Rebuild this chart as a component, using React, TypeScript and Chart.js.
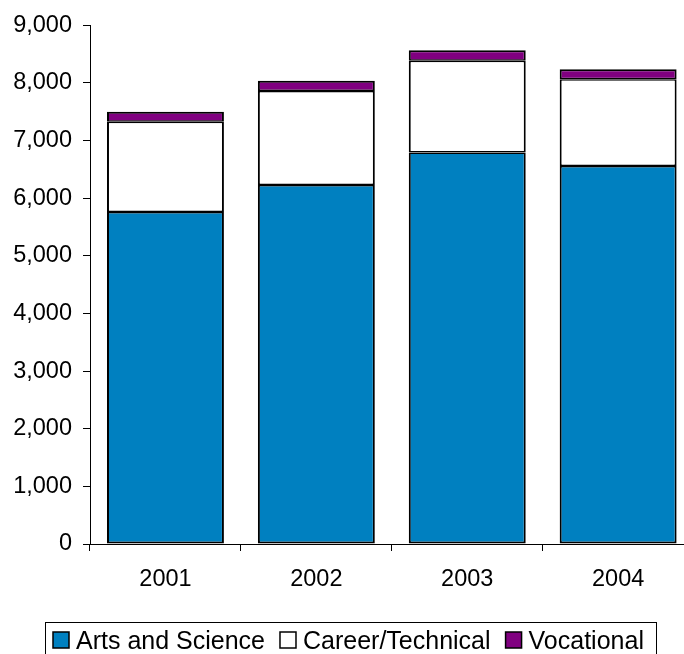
import React, { useEffect, useRef } from "react";
import { Chart, registerables } from "chart.js";

Chart.register(...registerables);

const categories = ["2001", "2002", "2003", "2004"];
const artsAndScience = [5760, 6225, 6790, 6555];
const careerTechnical = [1565, 1630, 1590, 1505];
const vocational = [170, 180, 185, 173];
const yTicks = [0, 1000, 2000, 3000, 4000, 5000, 6000, 7000, 8000, 9000];

const FONT = "'Liberation Sans', Arial, sans-serif";

const legendPlugin = {
  id: "boxLegend",
  afterDraw(chart: any) {
    const ctx = chart.ctx as CanvasRenderingContext2D;
    ctx.save();
    ctx.strokeStyle = "#000";
    ctx.lineWidth = 1;
    ctx.strokeRect(45.5, 622.5, 611, 40);
    ctx.font = `25px ${FONT}`;
    ctx.textBaseline = "alphabetic";
    ctx.textAlign = "left";
    let x = 53;
    chart.data.datasets.forEach((ds: any) => {
      ctx.fillStyle = ds.backgroundColor;
      ctx.fillRect(x, 632, 16, 16);
      ctx.lineWidth = 1.5;
      ctx.strokeStyle = "#000";
      ctx.strokeRect(x, 632, 16, 16);
      ctx.fillStyle = "#000";
      const tx = x + 23;
      ctx.fillText(ds.label, tx, 649);
      x = tx + ctx.measureText(ds.label).width + 15;
    });
    ctx.restore();
  },
};

const segBorder = { left: 2, right: 2, top: 1.5, bottom: 1.5 };

export default function App() {
  const ref = useRef<HTMLCanvasElement | null>(null);
  useEffect(() => {
    if (!ref.current) return;
    const chart = new Chart(ref.current, {
      type: "bar",
      data: {
        labels: categories,
        datasets: [
          {
            label: "Arts and Science",
            data: artsAndScience,
            backgroundColor: "#0080C0",
            borderColor: "#000",
            borderWidth: { left: 2, right: 2, top: 1.5, bottom: 2 },
            borderSkipped: false,
          },
          {
            label: "Career/Technical",
            data: careerTechnical,
            backgroundColor: "#FFFFFF",
            borderColor: "#000",
            borderWidth: segBorder,
            borderSkipped: false,
          },
          {
            label: "Vocational",
            data: vocational,
            backgroundColor: "#800080",
            borderColor: "#000",
            borderWidth: { left: 2, right: 2, top: 2, bottom: 1.5 },
            borderSkipped: false,
          },
        ],
      },
      options: {
        responsive: false,
        animation: false,
        devicePixelRatio: 1,
        layout: { padding: { left: 0, right: 6.4, top: 24, bottom: 54 } },
        datasets: { bar: { barPercentage: 0.775, categoryPercentage: 1 } },
        plugins: { legend: { display: false }, tooltip: { enabled: false } },
        scales: {
          x: {
            stacked: true,
            offset: true,
            grid: {
              offset: true,
              drawOnChartArea: false,
              drawTicks: true,
              tickLength: 7,
              color: "#000",
            },
            border: { color: "#000", width: 1 },
            ticks: { color: "#000", font: { family: FONT, size: 23.5 }, padding: 14 },
            afterFit: (s: any) => {
              s.height = 56;
            },
          },
          y: {
            stacked: true,
            min: 0,
            max: 9000,
            afterBuildTicks: (s: any) => {
              s.ticks = yTicks.map((v) => ({ value: v }));
            },
            grid: {
              drawOnChartArea: false,
              drawTicks: true,
              tickLength: 7,
              color: "#000",
            },
            border: { color: "#000", width: 1 },
            ticks: {
              color: "#000",
              font: { family: FONT, size: 23.5 },
              padding: 11,
              callback: (v: any) => Number(v).toLocaleString("en-US"),
            },
            afterFit: (s: any) => {
              s.width = 90;
            },
          },
        },
      },
      plugins: [legendPlugin],
    });
    return () => chart.destroy();
  }, []);
  return (
    <div
      style={{
        position: "fixed",
        left: 0,
        top: 0,
        width: 684,
        height: 654,
        overflow: "hidden",
        background: "#fff",
      }}
    >
      <canvas ref={ref} width={700} height={654} style={{ display: "block", width: 700, height: 654 }} />
    </div>
  );
}
